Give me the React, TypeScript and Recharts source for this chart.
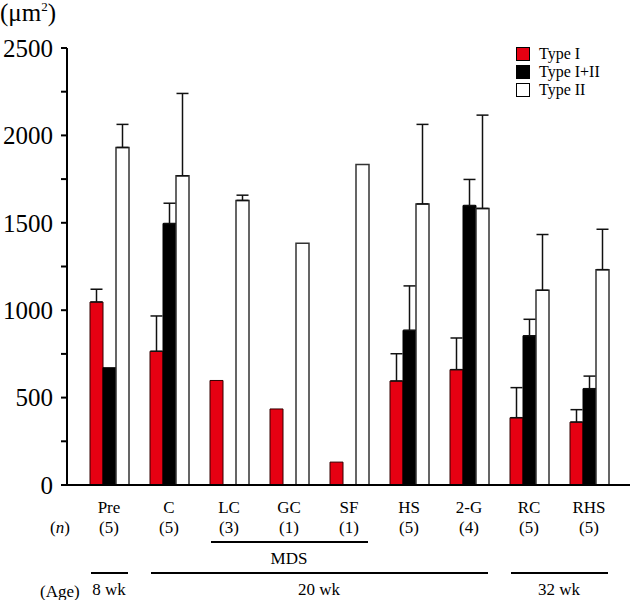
import React from 'react';
import { BarChart, Bar, XAxis, YAxis, ErrorBar } from 'recharts';

const categories = ['Pre', 'C', 'LC', 'GC', 'SF', 'HS', '2-G', 'RC', 'RHS'];
const nCounts = [5, 5, 3, 1, 1, 5, 4, 5, 5];

const typeI = [1047, 765, 598, 435, 131, 595, 660, 385, 360];
const typeIErr = [73, 202, null, null, null, 156, 181, 172, 71];
const typeI_II = [671, 1496, null, null, null, 885, 1599, 854, 551];
const typeI_IIErr = [null, 116, null, null, null, 254, 149, 94, 72];
const typeII = [1931, 1769, 1628, 1383, 1834, 1608, 1582, 1114, 1232];
const typeIIErr = [132, 471, 30, null, null, 455, 534, 319, 231];

const yTicks = [0, 250, 500, 750, 1000, 1250, 1500, 1750, 2000, 2250, 2500];

// brackets under the axis: row 0 = study group, row 1 = age
const spans = [
    { label: 'MDS', from: 2, to: 4, row: 0 },
    { label: '8 wk', from: 0, to: 0, row: 1 },
    { label: '20 wk', from: 1, to: 6, row: 1 },
    { label: '32 wk', from: 7, to: 8, row: 1 },
];

const series = [
    { key: 'typeI', name: 'Type I', fill: '#e60012', stroke: '#300' },
    { key: 'typeI_II', name: 'Type I+II', fill: '#000', stroke: '#000' },
    { key: 'typeII', name: 'Type II', fill: '#fff', stroke: '#333' },
];

const toErr = (e: number | null) => (e == null ? null : [0, e]);

const chartData = categories.map((name, i) => ({
    name,
    n: nCounts[i],
    typeI: typeI[i],
    typeIErr: toErr(typeIErr[i]),
    typeI_II: typeI_II[i],
    typeI_IIErr: toErr(typeI_IIErr[i]),
    typeII: typeII[i],
    typeIIErr: toErr(typeIIErr[i]),
}));

const FONT = '"Liberation Serif", "Times New Roman", serif';
const BAND = 60;

const CategoryTick = (props: any) => {
    const { x, y, payload } = props;
    const i = categories.indexOf(payload.value);
    return (
        <g fontFamily={FONT} fill="#000">
            <text x={x} y={y + 28} textAnchor="middle" fontSize={17}>{payload.value}</text>
            <text x={x} y={y + 48} textAnchor="middle" fontSize={17}>({nCounts[i]})</text>
            {i === 0 && (
                <>
                    <text x={50} y={y + 48} fontSize={17}>(<tspan fontStyle="italic">n</tspan>)</text>
                    <text x={40} y={y + 112} fontSize={17}>(Age)</text>
                </>
            )}
            {spans.filter((s) => s.from === i).map((s) => {
                const lineY = y + (s.row === 0 ? 57 : 88);
                const x2 = x + (s.to - s.from) * BAND + 19;
                return (
                    <g key={s.label}>
                        <line x1={x - 18} x2={x2} y1={lineY} y2={lineY} stroke="#000" strokeWidth={2} />
                        <text x={x + ((s.to - s.from) * BAND) / 2} y={lineY + 22} textAnchor="middle" fontSize={17}>
                            {s.label}
                        </text>
                    </g>
                );
            })}
        </g>
    );
};

const LegendBox = () => (
    <div style={{ position: 'absolute', left: 516, top: 45, fontFamily: FONT, fontSize: 16, lineHeight: '18px' }}>
        {series.map((s) => (
            <div key={s.key} style={{ display: 'flex', alignItems: 'center', height: 18 }}>
                <span style={{ display: 'inline-block', width: 12, height: 12, background: s.fill, border: '1px solid #000', marginRight: 9 }} />
                <span>{s.name}</span>
            </div>
        ))}
    </div>
);

const App = () => {
    return (
        <div style={{ position: 'absolute', left: 0, top: 0, width: 631, height: 600, background: '#fff' }}>
            <div style={{ position: 'absolute', left: 0, top: 0, fontFamily: FONT, fontSize: 25, lineHeight: '26px', zIndex: 2 }}>
                (μm<span style={{ fontSize: 13, position: 'relative', top: -10 }}>2</span>)
            </div>
            <LegendBox />
            <BarChart
                width={631}
                height={600}
                data={chartData}
                margin={{ top: 48, right: 1, bottom: 0, left: 0 }}
                barCategoryGap={11}
                barGap={0}
            >
                <XAxis
                    dataKey="name"
                    height={115}
                    padding={{ left: 12, right: 11 }}
                    axisLine={{ stroke: '#000', strokeWidth: 2 }}
                    tickLine={false}
                    tickSize={0}
                    tickMargin={0}
                    interval={0}
                    tick={<CategoryTick />}
                />
                <YAxis
                    width={67}
                    domain={[0, 2500]}
                    ticks={yTicks}
                    interval={0}
                    axisLine={{ stroke: '#000', strokeWidth: 2 }}
                    tickLine={{ stroke: '#000', strokeWidth: 2 }}
                    tickSize={6}
                    tickMargin={8}
                    tick={{ fill: '#000', fontSize: 25, fontFamily: FONT }}
                    tickFormatter={(v: number) => (v % 500 === 0 ? String(v) : '')}
                />
                {series.map((s) => (
                    <Bar
                        key={s.key}
                        dataKey={s.key}
                        name={s.name}
                        fill={s.fill}
                        stroke={s.stroke}
                        strokeWidth={s.key === 'typeII' ? 1.5 : 1}
                        isAnimationActive={false}
                    >
                        <ErrorBar dataKey={`${s.key}Err`} width={6} stroke="#111" strokeWidth={1.5} direction="y" />
                    </Bar>
                ))}
            </BarChart>
        </div>
    );
};

export default App;
